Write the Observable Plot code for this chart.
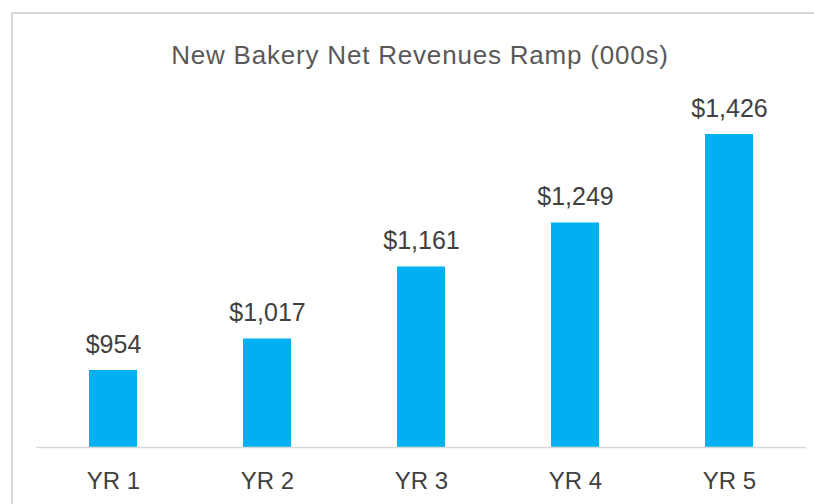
<!DOCTYPE html>
<html>
<head>
<meta charset="utf-8">
<script src="https://cdn.jsdelivr.net/npm/d3@7"></script>
<script src="https://cdn.jsdelivr.net/npm/@observablehq/plot@0.6"></script>
<style>
  html, body { margin: 0; padding: 0; background: #fff; }
  #wrap { position: relative; width: 814px; height: 504px; overflow: hidden; }
  #border { position: absolute; left: 11px; top: 12px; width: 900px; height: 600px;
            border-left: 2px solid #d9d9d9; border-top: 2px solid #d9d9d9; }
  #title { position: absolute; left: 0; top: 40px; width: 840px; text-align: center;
           font-family: "Liberation Sans", Arial, sans-serif; letter-spacing: 0.8px;
           font-size: 26px; line-height: 30px; color: #595959; white-space: nowrap; }
  #chart { position: absolute; left: 0; top: 0; }
</style>
</head>
<body>
<div id="wrap">
  <div id="border"></div>
  <div id="chart"></div>
  <div id="title">New Bakery Net Revenues Ramp (000s)</div>
</div>
<script>
const years = ["YR 1", "YR 2", "YR 3", "YR 4", "YR 5"];
const revenues = [954, 1017, 1161, 1249, 1426];
const labels = ["$954", "$1,017", "$1,161", "$1,249", "$1,426"];

const data = years.map((y, i) => ({year: y, value: revenues[i], label: labels[i]}));

const chart = Plot.plot({
  width: 814,
  height: 504,
  marginTop: 47,
  marginBottom: 57,
  marginLeft: 36,
  marginRight: 8,
  style: {fontFamily: "'Liberation Sans', Arial, sans-serif", fontSize: "24px", color: "#404040", background: "transparent"},
  x: {domain: years, paddingInner: 0.69, paddingOuter: 0.345, label: null},
  y: {domain: [800, 1600], axis: null},
  marks: [
    Plot.barY(data, {x: "year", y1: 800, y2: "value", fill: "#00b0f0"}),
    Plot.ruleY([800], {stroke: "#d9d9d9", strokeWidth: 1.5}),
    Plot.text(data, {x: "year", y: "value", text: "label", lineAnchor: "bottom", dy: -18, fill: "#404040", fontSize: 25}),
    Plot.axisX({tickSize: 0, tickPadding: 24, fontSize: 24, fill: "#404040", label: null})
  ]
});
document.getElementById("chart").appendChild(chart);
</script>
</body>
</html>
